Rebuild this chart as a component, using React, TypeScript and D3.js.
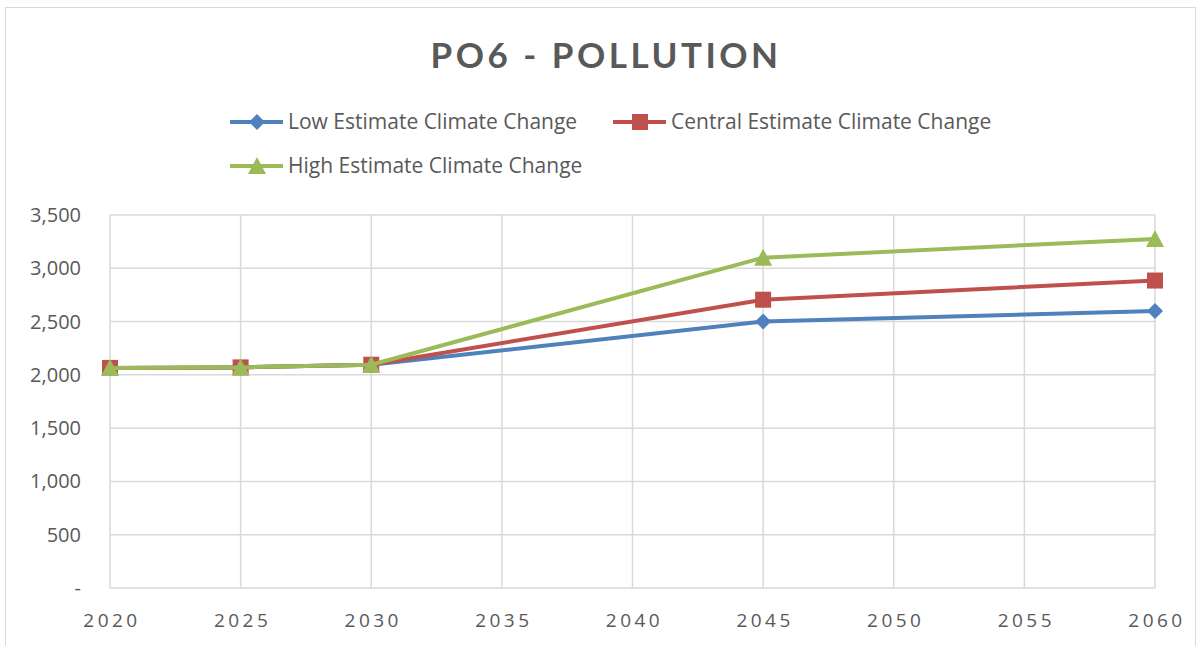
import React from "react";
import * as d3 from "d3";

const years = [2020, 2025, 2030, 2045, 2060];
const lowEstimate = [2065, 2070, 2095, 2500, 2600];
const centralEstimate = [2065, 2070, 2095, 2705, 2885];
const highEstimate = [2065, 2070, 2095, 3100, 3275];
const yTicks = [0, 500, 1000, 1500, 2000, 2500, 3000, 3500];
const xTicks = [2020, 2025, 2030, 2035, 2040, 2045, 2050, 2055, 2060];
const seriesNames = ["Low Estimate Climate Change", "Central Estimate Climate Change", "High Estimate Climate Change"];

const W = 1203;
const H = 646;
const FONT = "Lato, 'Open Sans', sans-serif";
const FONT2 = "'Open Sans', Lato, sans-serif";
const TEXT = "#595959";
const GRID = "#d9d9d9";

const series = [
  { name: seriesNames[0], values: lowEstimate, color: "#4F81BD", marker: "diamond" },
  { name: seriesNames[1], values: centralEstimate, color: "#C0504D", marker: "square" },
  { name: seriesNames[2], values: highEstimate, color: "#9BBB59", marker: "triangle" },
];

function Marker({ type, x, y, color }: { type: string; x: number; y: number; color: string }) {
  if (type === "diamond") {
    const s = 8;
    return <path d={`M${x},${y - s}L${x + s},${y}L${x},${y + s}L${x - s},${y}Z`} fill={color} />;
  }
  if (type === "square") {
    const s = 8;
    return <rect x={x - s} y={y - s} width={2 * s} height={2 * s} fill={color} />;
  }
  const s = 9;
  return <path d={`M${x},${y - s}L${x + s},${y + s - 1}L${x - s},${y + s - 1}Z`} fill={color} />;
}

export default function App() {
  const x = d3.scaleLinear().domain([2020, 2060]).range([110, 1155]);
  const y = d3.scaleLinear().domain([0, 3500]).range([588, 215]);
  const fmt = d3.format(",");
  const line = d3
    .line<[number, number]>()
    .x((d) => x(d[0]))
    .y((d) => y(d[1]));

  const legendItems = [
    { s: series[0], lx: 230, ly: 122 },
    { s: series[1], lx: 613, ly: 122 },
    { s: series[2], lx: 230, ly: 166 },
  ];

  return (
    <svg width={W} height={H} style={{ position: "absolute", left: 0, top: 0, background: "#fff" }}>
      <rect x={5.5} y={7.5} width={1190} height={650} fill="#fff" stroke="#d9d9d9" strokeWidth={1} />
      <text
        x={606}
        y={68}
        textAnchor="middle"
        fontFamily={FONT}
        fontWeight="bold"
        fontSize={35}
        letterSpacing={3.5}
        fill={TEXT}
      >
        PO6 - POLLUTION
      </text>

      {legendItems.map(({ s, lx, ly }) => (
        <g key={s.name}>
          <line x1={lx} x2={lx + 53} y1={ly} y2={ly} stroke={s.color} strokeWidth={4} />
          <Marker type={s.marker} x={lx + 27} y={ly} color={s.color} />
          <text x={lx + 58} y={ly + 7} fontFamily={FONT2} fontSize={21} fill={TEXT}>
            {s.name}
          </text>
        </g>
      ))}

      {yTicks.map((t) => (
        <g key={"y" + t}>
          <line x1={110} x2={1155} y1={y(t)} y2={y(t)} stroke={GRID} strokeWidth={1.5} />
          <text x={81} y={y(t) + 7} textAnchor="end" fontFamily={FONT2} fontSize={20} fill={TEXT}>
            {t === 0 ? "-" : fmt(t)}
          </text>
        </g>
      ))}
      {xTicks.map((t) => (
        <g key={"x" + t}>
          <line x1={x(t)} x2={x(t)} y1={215} y2={588} stroke={GRID} strokeWidth={1.5} />
          <text
            x={x(t) + 2}
            y={627}
            textAnchor="middle"
            fontFamily={FONT2}
            fontSize={19}
            letterSpacing={3.5}
            fill={TEXT}
          >
            {t}
          </text>
        </g>
      ))}

      {series.map((s) => {
        const pts = years.map((yr, i) => [yr, s.values[i]] as [number, number]);
        return (
          <g key={s.name}>
            <path d={line(pts) || ""} fill="none" stroke={s.color} strokeWidth={4} strokeLinejoin="round" />
            {pts.map((p, i) => (
              <Marker key={i} type={s.marker} x={x(p[0])} y={y(p[1])} color={s.color} />
            ))}
          </g>
        );
      })}
    </svg>
  );
}
